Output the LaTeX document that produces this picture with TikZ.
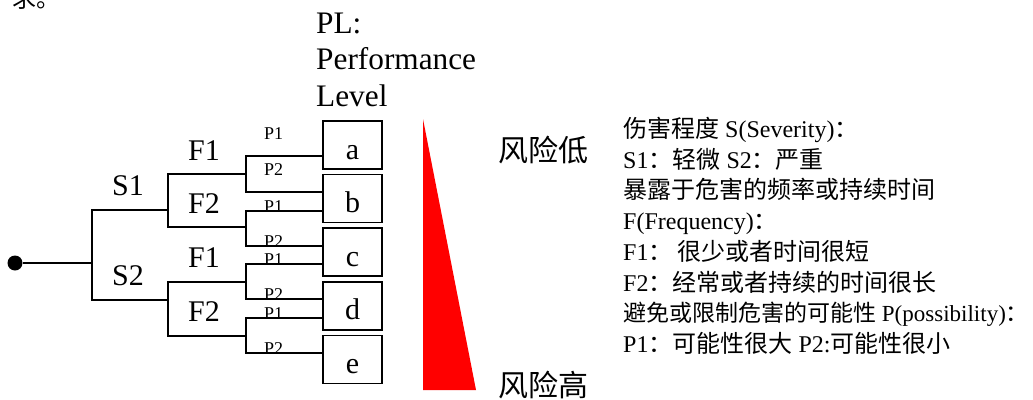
\documentclass[tikz,border=0pt]{standalone}
\usepackage{fontspec}
\setmainfont{Liberation Serif}
\newfontfamily\cjk{Noto Sans CJK SC}
\usetikzlibrary{positioning}
\tikzset{levelbox/.style={draw,line width=1.6pt,minimum width=59pt,minimum height=48pt,inner sep=0pt,text height=28pt,text depth=0pt,font=\fontsize{30}{36}\selectfont},
branch/.style={line width=1.6pt},
biglabel/.style={anchor=base west,inner sep=0pt,font=\fontsize{30}{36}\selectfont},
smalllabel/.style={anchor=base west,inner sep=0pt,font=\fontsize{18}{20}\selectfont},
notetext/.style={anchor=base west,inner sep=0pt,font=\fontsize{24}{30}\selectfont}}

\begin{document}
\begin{tikzpicture}[x=1pt,y=-1pt,node distance=4pt and 4pt]
\clip (0,0) rectangle (1033,399);

% cut-off line above
\node[notetext] (prev) at (12,7) {\cjk 求。};

% PL title
\node[biglabel,font=\fontsize{31.3}{36}\selectfont] (pl1) at (316,33) {PL:};
\node[biglabel,font=\fontsize{31.3}{36}\selectfont] (pl2) at (316,69) {Performance};
\node[biglabel,font=\fontsize{31.3}{36}\selectfont] (pl3) at (316,106) {Level};

% Level boxes
\node[levelbox] (a) at (352.5,145) {a};
\node[levelbox,below=of a] (b) {b};
\node[levelbox,below=of b] (c) {c};
\node[levelbox,below=of c] (d) {d};
\node[levelbox,below=of d] (e) {e};

% Tree forks
\node[circle,fill,inner sep=0pt,minimum size=15pt] (dot) at (15,263) {};
\coordinate (n0) at (92,263);
\coordinate (n1) at (168,210);
\coordinate (n2) at (168,300);
\coordinate (n11) at (246,174);
\coordinate (n12) at (246,227);
\coordinate (n21) at (246,282);
\coordinate (n22) at (246,336);

\draw[branch] (dot) -- (n0);
\draw[branch] (n1) -| (n0) |- (n2);
\draw[branch] (n11) -| (n1) |- (n12);
\draw[branch] (n21) -| (n2) |- (n22);
\foreach \n/\y/\b in {n11/156/a,n11/192/b,n12/211/b,n12/246/c,n21/264/c,n21/299/d,n22/318/d,n22/353/e}
  \draw[branch] (\n) |- (\b.west |- 0,\y);

% S and F labels
\node[biglabel] (s1) at (112,195) {S1};
\node[biglabel] (s2) at (112,285) {S2};
\node[biglabel] (f11) at (188,160) {F1};
\node[biglabel] (f12) at (188,213) {F2};
\node[biglabel] (f21) at (188,267) {F1};
\node[biglabel] (f22) at (188,321) {F2};

% P labels
\foreach \t/\y [count=\i] in {P1/139,P2/175,P1/212,P2/247,P1/265,P2/300,P1/319,P2/354}
  \node[smalllabel] (p\i) at (264,\y) {\t};

% Risk wedge
\fill[red] (423,119) -- (423,390) -- (476,390) -- cycle;
\node[font=\fontsize{30}{36}\selectfont\cjk,inner sep=0pt] (low) at (543,150) {风险低};
\node[font=\fontsize{30}{36}\selectfont\cjk,inner sep=0pt] (high) at (543,385) {风险高};

% Legend
\node[notetext] (t1) at (623,137) {{\cjk 伤害程度} S(Severity){\cjk ：}};
\node[notetext] (t2) at (623,168) {S1{\cjk ：轻微} S2{\cjk ：严重}};
\node[notetext] (t3) at (623,198) {\cjk 暴露于危害的频率或持续时间};
\node[notetext] (t4) at (623,229) {F(Frequency){\cjk ：}};
\node[notetext] (t5) at (623,260) {F1{\cjk ： 很少或者时间很短}};
\node[notetext] (t6) at (623,291) {F2{\cjk ：经常或者持续的时间很长}};
\node[notetext,font=\fontsize{23}{30}\selectfont] (t7) at (623,321) {{\cjk 避免或限制危害的可能性} P(possibility){\cjk \makebox[6pt][l]{：}}};
\node[notetext] (t8) at (623,352) {P1{\cjk ：可能性很大} P2:{\cjk 可能性很小}};
\end{tikzpicture}
\end{document}
